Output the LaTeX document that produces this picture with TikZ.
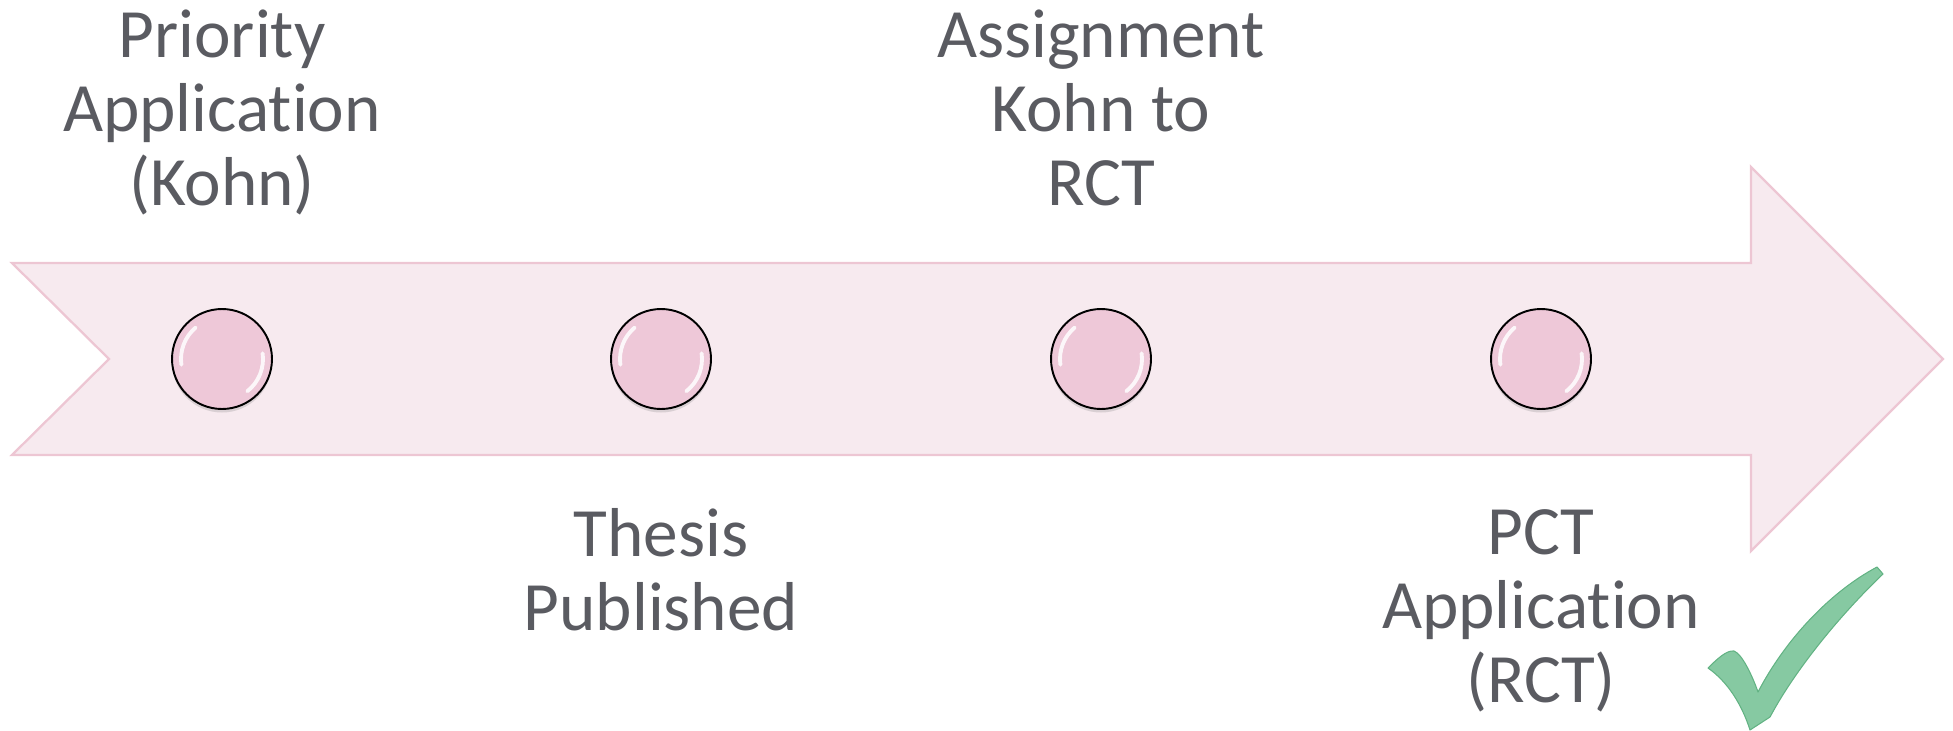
\documentclass[tikz,border=0pt]{standalone}
\usepackage{fontspec}
\setmainfont{Carlito}[Ligatures={NoCommon,NoContextual}]
\usetikzlibrary{shadows,calc}

\definecolor{bandfill}{HTML}{F7EAEF}
\definecolor{bandline}{HTML}{EDC6D3}
\definecolor{dotfill}{HTML}{EEC8D8}
\definecolor{labelgray}{HTML}{5A5B61}
\definecolor{tickgreen}{HTML}{86C9A2}
\definecolor{tickedge}{HTML}{62B283}

\tikzset{
	event/.style={circle, draw=black, line width=1.1pt, fill=dotfill, minimum size=2cm, inner sep=0pt,
		drop shadow={shadow xshift=0pt, shadow yshift=-2pt, opacity=0.25}},
	stamp/.style={text=labelgray, align=center, inner sep=0pt, anchor=base, font=\fontsize{39.4}{42}\selectfont},
	gloss/.style={white, line width=2.2pt, line cap=round, opacity=0.85}
}

\begin{document}
\begin{tikzpicture}[x=0.02cm, y=-0.02cm]
	\path[use as bounding box] (0, 0) rectangle (1953, 730);

	% timeline band with notched tail and arrow head
	\draw[fill=bandfill, draw=bandline, line width=1.3pt, line join=miter]
	(12, 263) -- (1751, 263) -- (1751, 167) -- (1943, 359)
	-- (1751, 551) -- (1751, 455) -- (12, 455) -- (109, 359) -- cycle;

	% events on the band
	\node[event] (dot1) at (222, 359) {};
	\node[event] (dot2) at (661, 359) {};
	\node[event] (dot3) at (1101, 359) {};
	\node[event] (dot4) at (1541, 359) {};
	\foreach \d in {dot1, dot2, dot3, dot4}{
		\draw[gloss] ($(\d)+(130:0.82cm)$) arc[start angle=130, end angle=188, radius=0.82cm];
		\draw[gloss] ($(\d)+(-52:0.82cm)$) arc[start angle=-52, end angle=8, radius=0.82cm];
	}

	% labels (anchored on the last line's baseline)
	\node[stamp] (lbl1) at (222, 205) {Priority\\Application\\(Kohn)};
	\node[stamp] (lbl2) at (661, 630) {Thesis\\Published};
	\node[stamp] (lbl3) at (1101, 205) {Assignment\\Kohn to\\RCT};
	\node[stamp] (lbl4) at (1541, 702) {PCT\\Application\\(RCT)};

	% tick mark
	\draw[fill=tickgreen, draw=tickedge, line width=0.6pt, line join=round]
	(1708, 668) .. controls (1718, 658) and (1727, 650) .. (1734, 651)
	.. controls (1742, 654) and (1752, 675) .. (1758, 692)
	.. controls (1785, 640) and (1830, 592) .. (1877, 567)
	-- (1883, 574)
	.. controls (1840, 615) and (1795, 670) .. (1770, 717)
	-- (1750, 730)
	.. controls (1742, 705) and (1728, 682) .. cycle;
\end{tikzpicture}
\end{document}
